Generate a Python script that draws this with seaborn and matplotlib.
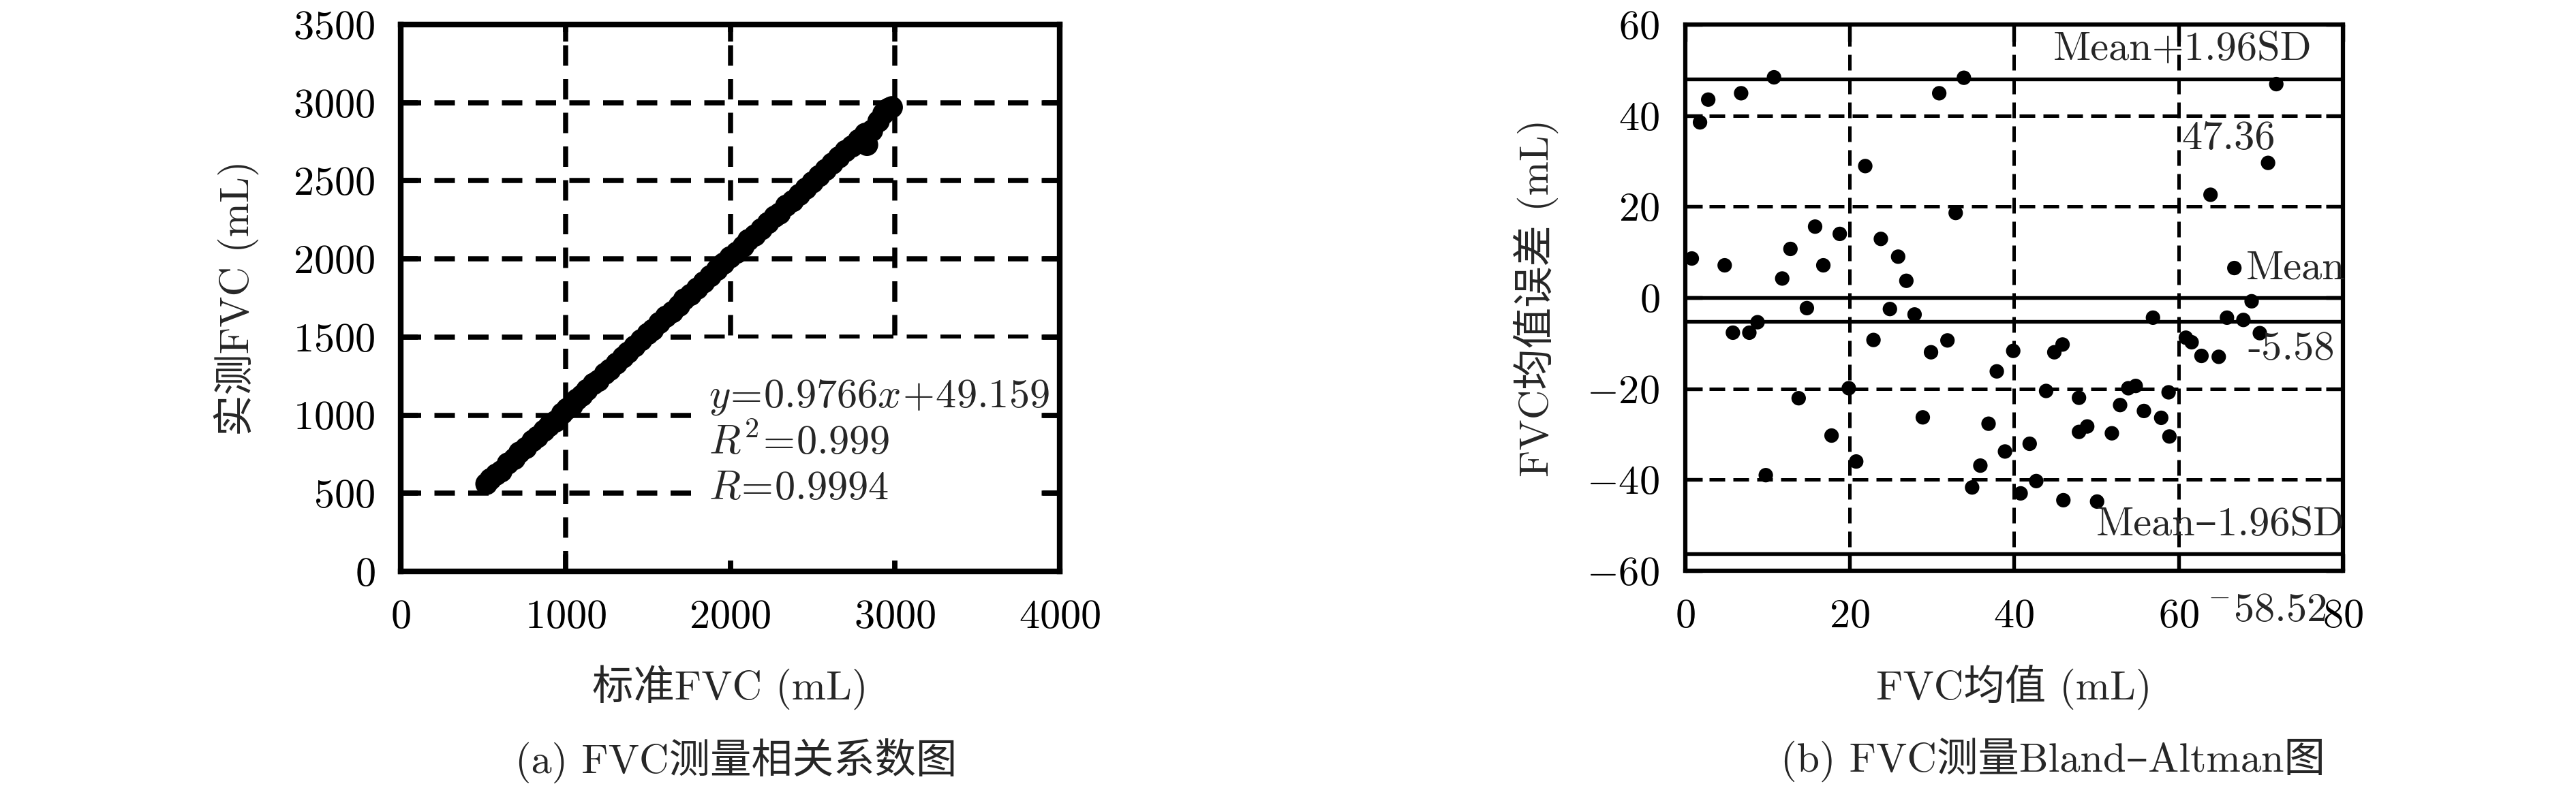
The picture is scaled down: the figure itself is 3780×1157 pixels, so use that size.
import matplotlib
matplotlib.use("Agg")
import matplotlib.pyplot as plt
import seaborn as sns
import pandas as pd
from matplotlib.patches import Rectangle

sns.set_style("ticks")
plt.rcParams["font.family"] = ["cmr10", "Noto Sans CJK SC"]
plt.rcParams["mathtext.fontset"] = "cm"
plt.rcParams["axes.formatter.use_mathtext"] = True
plt.rcParams["axes.unicode_minus"] = True

# ---------------- data (a): correlation ----------------
std_fvc = [520, 545, 580, 610, 650, 690, 720, 760, 800, 830, 870, 900, 940, 980,
           1010, 1040, 1070, 1100, 1130, 1170, 1200, 1240, 1270, 1310, 1350, 1380,
           1420, 1460, 1500, 1530, 1570, 1610, 1650, 1690, 1720, 1760, 1800, 1840,
           1880, 1920, 1960, 2000, 2040, 2080, 2110, 2150, 2190, 2230, 2270, 2300,
           2340, 2380, 2420, 2460, 2500, 2540, 2580, 2620, 2660, 2700, 2740, 2780,
           2820, 2830, 2860, 2900, 2930, 2960, 2980]
meas_fvc = [560, 590, 620, 640, 690, 720, 760, 790, 835, 860, 900, 930, 960, 1010,
            1040, 1060, 1100, 1125, 1160, 1200, 1220, 1265, 1290, 1330, 1370, 1400,
            1440, 1480, 1520, 1545, 1590, 1630, 1660, 1700, 1740, 1770, 1810, 1850,
            1890, 1930, 1970, 2010, 2040, 2080, 2120, 2150, 2190, 2230, 2270, 2290,
            2340, 2370, 2410, 2450, 2490, 2530, 2570, 2610, 2650, 2690, 2720, 2760,
            2800, 2730, 2820, 2880, 2930, 2960, 2970]
fit_text = [r"$y\!=\!0.9766x\!+\!49.159$", r"$R^2\!=\!0.999$", r"$R\!=\!0.9994$"]

# ---------------- data (b): Bland-Altman ----------------
ba_mean = [10.8, 33.9, 2.8, 6.8, 30.9, 1.8, 21.9, 32.9, 15.8, 18.8, 12.8, 23.8, 25.9,
           0.8, 4.8, 16.8, 11.8, 26.9,
           71.9, 70.9, 63.9, 66.8, 68.9,
           14.8, 24.9, 27.9, 8.8, 5.8, 7.8, 22.9, 31.9, 29.9, 39.9, 37.9, 19.9, 13.8,
           28.9, 36.9, 17.8, 38.9, 20.8, 35.9, 9.8, 34.9,
           56.9, 65.9, 67.9, 69.9, 60.9, 61.6, 62.8, 64.9, 45.9, 44.9, 54.8, 53.9,
           43.9, 58.8, 47.9, 52.9, 55.8, 57.9, 48.9, 47.9, 51.9, 58.9, 41.9, 42.7,
           40.8, 46.0, 50.1]
ba_diff = [48.4, 48.3, 43.5, 44.9, 44.9, 38.5, 28.9, 18.6, 15.6, 14.0, 10.7, 12.9, 9.0,
           8.6, 7.1, 7.1, 4.2, 3.7,
           46.9, 29.6, 22.6, 6.5, -0.8,
           -2.3, -2.5, -3.7, -5.4, -7.7, -7.7, -9.3, -9.4, -12.0, -11.7, -16.2, -19.9,
           -22.1, -26.3, -27.7, -30.3, -33.8, -36.0, -36.9, -39.0, -41.7,
           -4.4, -4.4, -4.9, -7.8, -8.8, -9.8, -12.8, -13.0, -10.3, -12.0, -19.4,
           -19.9, -20.5, -20.8, -22.0, -23.6, -24.9, -26.4, -28.3, -29.5, -29.8,
           -30.5, -32.1, -40.3, -43.0, -44.5, -44.8]
ref_lines = [48.0, 0.0, -5.3, -56.3]          # positions
upper_lbl, mean_val_lbl, lower_lbl = "47.36", "-5.58", r"$^{-}$58.52"

df_a = pd.DataFrame({"std": std_fvc, "meas": meas_fvc})
df_b = pd.DataFrame({"m": ba_mean, "d": ba_diff})

FS = 14.5
fig = plt.figure(figsize=(12.6, 3.8567), dpi=300)
ax1 = fig.add_axes([0.1556, 0.2749, 0.2558, 0.6940])
ax2 = fig.add_axes([0.6542, 0.2757, 0.2553, 0.6932])

# ---------- panel (a) ----------
sns.scatterplot(data=df_a, x="std", y="meas", ax=ax1, color="black", s=62,
                edgecolor="none", zorder=3, legend=False)
ax1.set_xlim(0, 4000)
ax1.set_ylim(0, 3500)
ax1.set_xticks(range(0, 4001, 1000))
ax1.set_yticks(range(0, 3501, 500))
ax1.set_axisbelow(True)
ax1.grid(True, color="black", lw=1.8, ls=(0, (4.0, 2.6)))
ax1.add_patch(Rectangle((1800, 70), 2080, 1420, facecolor="white",
                        edgecolor="none", zorder=1))
for t, yy in zip(fit_text, [1114, 820, 525]):
    ax1.text(1870, yy, t, fontsize=FS, va="center", ha="left", zorder=4)
ax1.set_xlabel("标准FVC (mL)", fontsize=FS, labelpad=10)
ax1.set_ylabel("实测FVC (mL)", fontsize=FS, labelpad=12)
for sp in ax1.spines.values():
    sp.set_linewidth(2.0)
    sp.set_color("black")
ax1.tick_params(direction="in", length=6, width=1.8, top=True, right=True,
                labelsize=FS, colors="black")
ax1.tick_params(axis="x", pad=10)
ax1.tick_params(axis="y", pad=9)

# ---------- panel (b) ----------
sns.scatterplot(data=df_b, x="m", y="d", ax=ax2, color="black", s=26,
                edgecolor="none", zorder=3, legend=False)
ax2.set_xlim(0, 80)
ax2.set_ylim(-60, 60)
ax2.set_xticks(range(0, 81, 20))
ax2.set_yticks(range(-60, 61, 20))
ax2.set_axisbelow(True)
ax2.grid(True, color="black", lw=1.2, ls=(0, (4.6, 2.4)))
for yv in ref_lines:
    ax2.axhline(yv, color="black", lw=1.3, zorder=2)
ax2.text(44.8, 54.5, "Mean+1.96SD", fontsize=FS, ha="left", va="center")
ax2.text(60.4, 34.8, upper_lbl, fontsize=FS, ha="left", va="center")
ax2.text(68.2, 6.3, "Mean", fontsize=FS, ha="left", va="center")
ax2.text(68.4, -11.4, mean_val_lbl, fontsize=FS, ha="left", va="center", zorder=5)
ax2.text(50.0, -50.0, "Mean–1.96SD", fontsize=FS, ha="left", va="center")
ax2.text(63.4, -68.9, lower_lbl, fontsize=FS, ha="left", va="center", clip_on=False)
ax2.set_xlabel("FVC均值 (mL)", fontsize=FS, labelpad=10)
ax2.set_ylabel("FVC均值误差 (mL)", fontsize=FS, labelpad=10)
for sp in ax2.spines.values():
    sp.set_linewidth(1.5)
    sp.set_color("black")
ax2.tick_params(direction="in", length=6, width=1.3, top=True, right=True,
                labelsize=FS, colors="black")
ax2.tick_params(axis="x", pad=10)
ax2.tick_params(axis="y", pad=9)

fig.text(0.2857, 0.035, "(a) FVC测量相关系数图", fontsize=FS, ha="center", va="center")
fig.text(0.797, 0.035, "(b) FVC测量Bland–Altman图", fontsize=FS, ha="center", va="center")

fig.savefig("out.png", dpi=300, facecolor="white")
